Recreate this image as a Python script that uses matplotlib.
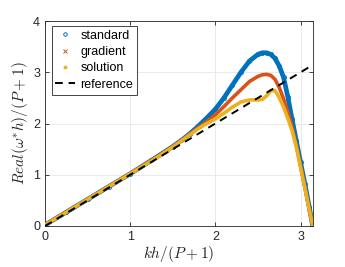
import matplotlib.pyplot as plt
import numpy as np

# kh/(P+1) sample points and Real(w*h)/(P+1)
kh = [0, 0.25, 0.5, 0.75, 1.0, 1.25, 1.5, 1.6, 1.7, 1.8, 1.9, 2.0, 2.1, 2.2, 2.3,
      2.4, 2.5, 2.55, 2.6, 2.65, 2.7, 2.75, 2.8, 2.85, 2.9, 2.95, 3.0, 3.05, 3.1, 3.14]
standard = [0.02, 0.27, 0.52, 0.77, 1.02, 1.28, 1.55, 1.67, 1.80, 1.95, 2.11, 2.28, 2.50,
            2.75, 3.00, 3.22, 3.35, 3.38, 3.38, 3.35, 3.27, 3.12, 2.90, 2.52, 2.08, 1.66,
            1.24, 0.82, 0.38, 0.02]
gradient = [0.02, 0.27, 0.52, 0.77, 1.02, 1.28, 1.55, 1.67, 1.79, 1.92, 2.04, 2.17, 2.33,
            2.50, 2.66, 2.82, 2.92, 2.95, 2.96, 2.94, 2.86, 2.70, 2.48, 2.22, 1.93, 1.57,
            1.17, 0.77, 0.35, 0.02]
solution = [0.02, 0.27, 0.52, 0.77, 1.02, 1.27, 1.54, 1.66, 1.78, 1.90, 2.00, 2.09, 2.20,
            2.32, 2.42, 2.46, 2.46, 2.47, 2.54, 2.64, 2.64, 2.50, 2.32, 2.10, 1.86, 1.54,
            1.14, 0.74, 0.33, 0.02]
ref_x = [0, np.pi]
ref_y = [0, np.pi]

plt.rcParams['font.family'] = ['Liberation Sans', 'DejaVu Sans']
plt.rcParams['mathtext.fontset'] = 'cm'

fig = plt.figure(figsize=(3.45, 2.67), dpi=100)
ax = fig.add_axes([0.1304, 0.1536, 0.7759, 0.7677])

blue, orange, yellow = '#0072BD', '#D95319', '#EDB120'

ax.plot(kh, standard, color=blue, lw=3.4, solid_capstyle='round', zorder=2)
ax.plot(kh, gradient, color=orange, lw=2.6, solid_capstyle='round', zorder=3)
ax.plot(kh, solution, color=yellow, lw=2.6, solid_capstyle='round', zorder=4)
ax.plot(kh, standard, 'o', mfc='none', mec=blue, ms=3, mew=0.6, zorder=2)

# legend handles
h1, = ax.plot([], [], 'o', mfc='none', mec=blue, ms=2.5, mew=0.7)
h2, = ax.plot([], [], 'x', color=orange, ms=2.5, mew=0.7)
h3, = ax.plot([], [], '.', color=yellow, ms=3.5)
h4, = ax.plot(ref_x, ref_y, '--', color='k', lw=1.4, dashes=(4, 3), zorder=5)

ax.set_xlim(0, np.pi)
ax.set_ylim(0, 4)
ax.set_xticks([0, 1, 2, 3])
ax.set_yticks([0, 1, 2, 3, 4])
ax.tick_params(direction='in', labelsize=9, length=3, width=0.6, colors='0.15',
               top=True, right=True, labelcolor='0.15')
for s in ax.spines.values():
    s.set_color('0.15')
    s.set_linewidth(0.6)
ax.grid(True, color='0.9', lw=0.6)
ax.set_axisbelow(True)

ax.set_xlabel(r'$kh/(P+1)$', fontsize=11, color='0.15', labelpad=1)
ax.set_ylabel(r'$Real(\omega^{*}h)/(P+1)$', fontsize=11, color='0.15', labelpad=2)

leg = ax.legend([h1, h2, h3, h4], ['standard', 'gradient', 'solution', 'reference'],
                loc='upper left', bbox_to_anchor=(0.025, 0.976), borderaxespad=0,
                fontsize=9, fancybox=False, edgecolor='0.15', framealpha=1,
                handlelength=1.6, handletextpad=0.4, labelspacing=0.35, borderpad=0.3)
leg.get_frame().set_linewidth(0.6)

fig.savefig('out.png', dpi=100)
